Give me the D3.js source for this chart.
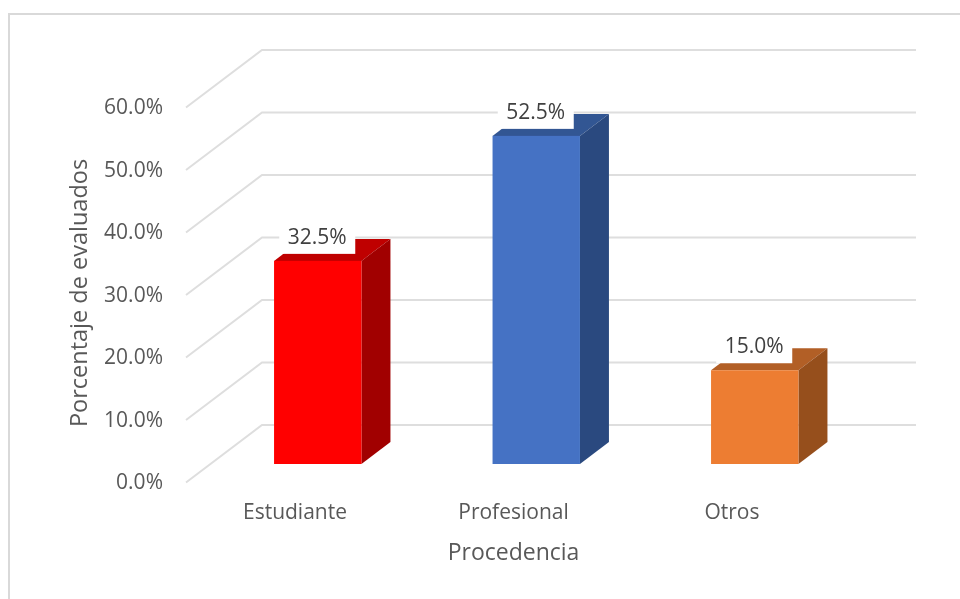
<!DOCTYPE html>
<html><head><meta charset="utf-8">
<script src="https://cdn.jsdelivr.net/npm/d3@7"></script>
<style>html,body{margin:0;padding:0;background:#fff}svg{display:block}text{font-family:"Open Sans",sans-serif}</style>
</head><body><svg id="c" width="960" height="599"></svg>
<script>
const categories=["Estudiante","Profesional","Otros"];
const values=[32.5,52.5,15.0];
const frontColors=["#ff0000","#4472c4","#ed7d31"];
const topColors=["#bf0000","#335693","#b25e25"];
const sideColors=["#a10000","#2b4a7f","#964f1f"];
const yTicks=[0,10,20,30,40,50,60];
const root=d3.select("#c");
const defs=root.append("defs");
defs.append("filter").attr("id","soft").attr("x",0).attr("y",0).attr("width",1).attr("height",1)
 .attr("filterUnits","userSpaceOnUse").attr("x",0).attr("y",0).attr("width",960).attr("height",599)
 .append("feGaussianBlur").attr("stdDeviation",0.45);
const svg=root.append("g").attr("filter","url(#soft)");
const floorY=464;
const wallDX=76,wallDY=57.5,barDX=29,barDY=22;
const h=d3.scaleLinear().domain([0,60]).range([0,375]);
const x=d3.scaleBand().domain(categories).range([208.5,864]).paddingInner(0.6).paddingOuter(0.3);
const wallX=262,wallRight=916,wallBase=425;
svg.append("rect").attr("x",0).attr("y",0).attr("width",960).attr("height",599).attr("fill","#fff");
svg.append("rect").attr("x",9).attr("y",14).attr("width",1100).attr("height",700).attr("fill","#fff").attr("stroke","#d9d9d9").attr("stroke-width",2);
const grid=svg.append("g").attr("fill","none").attr("stroke","#dedede").attr("stroke-width",2);
yTicks.forEach(t=>{const y=wallBase-h(t);
 grid.append("path").attr("d",d3.line()([[wallX-wallDX,y+wallDY],[wallX,y],[wallRight,y]]));});
svg.append("g").selectAll("text").data(yTicks).join("text")
 .attr("x",163).attr("y",t=>wallBase-h(t)+wallDY+6.5).attr("text-anchor","end")
 .attr("font-size",21).attr("fill","#595959").text(t=>t.toFixed(1)+"%");
categories.forEach((c,i)=>{
 const l=x(c),w=x.bandwidth(),r=l+w,t=floorY-h(values[i]);
 const g=svg.append("g");
 g.append("path").attr("fill",topColors[i]).attr("d",d3.line()([[l,t],[l+barDX,t-barDY],[r+barDX,t-barDY],[r,t]])+"Z");
 g.append("path").attr("fill",sideColors[i]).attr("d",d3.line()([[r,t],[r+barDX,t-barDY],[r+barDX,floorY-barDY],[r,floorY]])+"Z");
 g.append("rect").attr("x",l).attr("y",t).attr("width",w).attr("height",h(values[i])).attr("fill",frontColors[i]);
 const cx=l+w/2-0.5;
 svg.append("rect").attr("x",cx-38).attr("y",t-34).attr("width",76).attr("height",27).attr("fill","#fff");
 svg.append("text").attr("x",cx).attr("y",t-17).attr("text-anchor","middle").attr("font-size",21).attr("fill","#404040").text(values[i].toFixed(1)+"%");
});
const labelX=[295,513.5,732];
svg.append("g").selectAll("text").data(categories).join("text")
 .attr("x",(d,i)=>labelX[i]).attr("y",519).attr("text-anchor","middle").attr("font-size",21).attr("fill","#595959").text(d=>d);
svg.append("text").attr("x",513.5).attr("y",560).attr("text-anchor","middle").attr("font-size",23).attr("fill","#595959").text("Procedencia");
svg.append("text").attr("transform","translate(87,293) rotate(-90)").attr("text-anchor","middle").attr("font-size",23.5).attr("fill","#595959").text("Porcentaje de evaluados");
</script></body></html>
